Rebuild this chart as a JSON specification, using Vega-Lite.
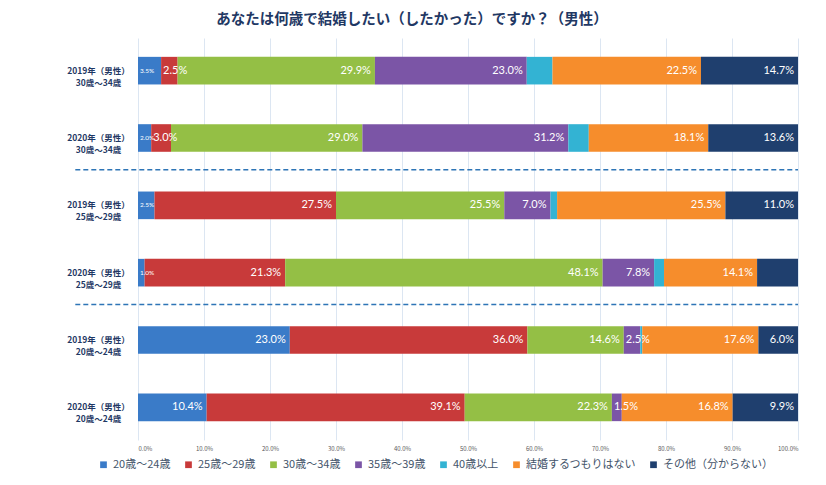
{
  "$schema": "https://vega.github.io/schema/vega-lite/v6.json",
  "width": 660,
  "height": 402,
  "autosize": {"type": "none"},
  "padding": {"left": 138, "top": 38, "right": 28, "bottom": 45},
  "background": "white",
  "title": {"text": "あなたは何歳で結婚したい（したかった）ですか？（男性）", "fontSize": 14.5, "fontWeight": "bold", "color": "#1f3864", "font": "Noto Sans CJK JP", "anchor": "middle", "dx": -56, "offset": 11},
  "config": {"view": {"stroke": null}, "font": "Noto Sans CJK JP"},
  "data": {"values": [
    {"row": "2019年（男性）|30歳～34歳", "cat": "20歳～24歳", "order": 0, "pct": 3.5, "label": "3.5%"},
    {"row": "2019年（男性）|30歳～34歳", "cat": "25歳～29歳", "order": 1, "pct": 2.5, "label": "2.5%"},
    {"row": "2019年（男性）|30歳～34歳", "cat": "30歳～34歳", "order": 2, "pct": 29.9, "label": "29.9%"},
    {"row": "2019年（男性）|30歳～34歳", "cat": "35歳～39歳", "order": 3, "pct": 23.0, "label": "23.0%"},
    {"row": "2019年（男性）|30歳～34歳", "cat": "40歳以上", "order": 4, "pct": 3.9, "label": ""},
    {"row": "2019年（男性）|30歳～34歳", "cat": "結婚するつもりはない", "order": 5, "pct": 22.5, "label": "22.5%"},
    {"row": "2019年（男性）|30歳～34歳", "cat": "その他（分からない）", "order": 6, "pct": 14.7, "label": "14.7%"},
    {"row": "2020年（男性）|30歳～34歳", "cat": "20歳～24歳", "order": 0, "pct": 2.0, "label": "2.0%"},
    {"row": "2020年（男性）|30歳～34歳", "cat": "25歳～29歳", "order": 1, "pct": 3.0, "label": "3.0%"},
    {"row": "2020年（男性）|30歳～34歳", "cat": "30歳～34歳", "order": 2, "pct": 29.0, "label": "29.0%"},
    {"row": "2020年（男性）|30歳～34歳", "cat": "35歳～39歳", "order": 3, "pct": 31.2, "label": "31.2%"},
    {"row": "2020年（男性）|30歳～34歳", "cat": "40歳以上", "order": 4, "pct": 3.1, "label": ""},
    {"row": "2020年（男性）|30歳～34歳", "cat": "結婚するつもりはない", "order": 5, "pct": 18.1, "label": "18.1%"},
    {"row": "2020年（男性）|30歳～34歳", "cat": "その他（分からない）", "order": 6, "pct": 13.6, "label": "13.6%"},
    {"row": "2019年（男性）|25歳～29歳", "cat": "20歳～24歳", "order": 0, "pct": 2.5, "label": "2.5%"},
    {"row": "2019年（男性）|25歳～29歳", "cat": "25歳～29歳", "order": 1, "pct": 27.5, "label": "27.5%"},
    {"row": "2019年（男性）|25歳～29歳", "cat": "30歳～34歳", "order": 2, "pct": 25.5, "label": "25.5%"},
    {"row": "2019年（男性）|25歳～29歳", "cat": "35歳～39歳", "order": 3, "pct": 7.0, "label": "7.0%"},
    {"row": "2019年（男性）|25歳～29歳", "cat": "40歳以上", "order": 4, "pct": 1.0, "label": ""},
    {"row": "2019年（男性）|25歳～29歳", "cat": "結婚するつもりはない", "order": 5, "pct": 25.5, "label": "25.5%"},
    {"row": "2019年（男性）|25歳～29歳", "cat": "その他（分からない）", "order": 6, "pct": 11.0, "label": "11.0%"},
    {"row": "2020年（男性）|25歳～29歳", "cat": "20歳～24歳", "order": 0, "pct": 1.0, "label": "1.0%"},
    {"row": "2020年（男性）|25歳～29歳", "cat": "25歳～29歳", "order": 1, "pct": 21.3, "label": "21.3%"},
    {"row": "2020年（男性）|25歳～29歳", "cat": "30歳～34歳", "order": 2, "pct": 48.1, "label": "48.1%"},
    {"row": "2020年（男性）|25歳～29歳", "cat": "35歳～39歳", "order": 3, "pct": 7.8, "label": "7.8%"},
    {"row": "2020年（男性）|25歳～29歳", "cat": "40歳以上", "order": 4, "pct": 1.5, "label": ""},
    {"row": "2020年（男性）|25歳～29歳", "cat": "結婚するつもりはない", "order": 5, "pct": 14.1, "label": "14.1%"},
    {"row": "2020年（男性）|25歳～29歳", "cat": "その他（分からない）", "order": 6, "pct": 6.2, "label": ""},
    {"row": "2019年（男性）|20歳～24歳", "cat": "20歳～24歳", "order": 0, "pct": 23.0, "label": "23.0%"},
    {"row": "2019年（男性）|20歳～24歳", "cat": "25歳～29歳", "order": 1, "pct": 36.0, "label": "36.0%"},
    {"row": "2019年（男性）|20歳～24歳", "cat": "30歳～34歳", "order": 2, "pct": 14.6, "label": "14.6%"},
    {"row": "2019年（男性）|20歳～24歳", "cat": "35歳～39歳", "order": 3, "pct": 2.5, "label": "2.5%"},
    {"row": "2019年（男性）|20歳～24歳", "cat": "40歳以上", "order": 4, "pct": 0.3, "label": ""},
    {"row": "2019年（男性）|20歳～24歳", "cat": "結婚するつもりはない", "order": 5, "pct": 17.6, "label": "17.6%"},
    {"row": "2019年（男性）|20歳～24歳", "cat": "その他（分からない）", "order": 6, "pct": 6.0, "label": "6.0%"},
    {"row": "2020年（男性）|20歳～24歳", "cat": "20歳～24歳", "order": 0, "pct": 10.4, "label": "10.4%"},
    {"row": "2020年（男性）|20歳～24歳", "cat": "25歳～29歳", "order": 1, "pct": 39.1, "label": "39.1%"},
    {"row": "2020年（男性）|20歳～24歳", "cat": "30歳～34歳", "order": 2, "pct": 22.3, "label": "22.3%"},
    {"row": "2020年（男性）|20歳～24歳", "cat": "35歳～39歳", "order": 3, "pct": 1.5, "label": "1.5%"},
    {"row": "2020年（男性）|20歳～24歳", "cat": "40歳以上", "order": 4, "pct": 0.0, "label": ""},
    {"row": "2020年（男性）|20歳～24歳", "cat": "結婚するつもりはない", "order": 5, "pct": 16.8, "label": "16.8%"},
    {"row": "2020年（男性）|20歳～24歳", "cat": "その他（分からない）", "order": 6, "pct": 9.9, "label": "9.9%"}
  ]},
  "transform": [
    {"stack": "pct", "groupby": ["row"], "sort": [{"field": "order", "order": "ascending"}], "as": ["x0", "x1"]}
  ],
  "encoding": {
    "y": {
      "field": "row", "type": "nominal",
      "sort": ["2019年（男性）|30歳～34歳", "2020年（男性）|30歳～34歳", "2019年（男性）|25歳～29歳", "2020年（男性）|25歳～29歳", "2019年（男性）|20歳～24歳", "2020年（男性）|20歳～24歳"],
      "scale": {"paddingInner": 0.59, "paddingOuter": 0.28},
      "axis": {"title": null, "labelExpr": "split(datum.label, '|')", "labelFontSize": 8.5, "labelFontWeight": "bold", "labelColor": "#1f3864", "labelLineHeight": 12, "ticks": false, "domain": false, "labelPadding": 40, "grid": false, "labelAlign": "center"}
    }
  },
  "layer": [
    {
      "mark": {"type": "bar"},
      "encoding": {
        "x": {"field": "x0", "type": "quantitative", "scale": {"domain": [0, 100], "nice": false},
          "axis": {"title": null, "values": [0, 10, 20, 30, 40, 50, 60, 70, 80, 90, 100], "labelExpr": "format(datum.value, '.1f') + '%'", "labelFontSize": 6, "labelColor": "#595959", "domain": false, "ticks": false, "labelPadding": 5, "gridColor": "#dce6f2", "gridWidth": 1}},
        "x2": {"field": "x1"},
        "color": {"field": "cat", "type": "nominal",
          "scale": {"domain": ["20歳～24歳", "25歳～29歳", "30歳～34歳", "35歳～39歳", "40歳以上", "結婚するつもりはない", "その他（分からない）"],
            "range": ["#3a7bc8", "#c83a3a", "#94bf45", "#7b55a6", "#33b3d3", "#f68d2c", "#1f3f6e"]},
          "legend": {"title": null, "orient": "none", "direction": "horizontal", "legendX": -40, "legendY": 421, "symbolType": "square", "symbolSize": 45, "labelFontSize": 11, "labelColor": "#44546a", "columnPadding": 12, "symbolStrokeWidth": 0}}
      }
    },
    {
      "transform": [{"filter": "datum.label != '' && datum.pct >= 4"}],
      "mark": {"type": "text", "align": "right", "dx": -4, "color": "white", "fontSize": 11, "font": "Lato", "baseline": "middle"},
      "encoding": {"x": {"field": "x1", "type": "quantitative"}, "text": {"field": "label"}}
    },
    {
      "transform": [{"filter": "datum.label != '' && datum.pct < 4 && datum.order != 0"}],
      "mark": {"type": "text", "align": "left", "dx": 2, "color": "white", "fontSize": 11, "font": "Lato", "baseline": "middle"},
      "encoding": {"x": {"field": "x0", "type": "quantitative"}, "text": {"field": "label"}}
    },
    {
      "transform": [{"filter": "datum.order == 0 && datum.pct < 4"}],
      "mark": {"type": "text", "align": "left", "dx": 2, "color": "white", "fontSize": 6.5, "font": "Lato", "baseline": "middle"},
      "encoding": {"x": {"field": "x0", "type": "quantitative"}, "text": {"field": "label"}}
    },
    {
      "data": {"values": [{"row": "2020年（男性）|30歳～34歳", "from": -9.5, "to": 100}, {"row": "2020年（男性）|25歳～29歳", "from": -9.5, "to": 100}]},
      "transform": [],
      "mark": {"type": "rule", "strokeDash": [5, 3], "color": "#2e75b6", "strokeWidth": 1.5, "yOffset": 18},
      "encoding": {
        "x": {"field": "from", "type": "quantitative"},
        "x2": {"field": "to"},
        "y": {"field": "row", "type": "nominal", "bandPosition": 1}
      }
    }
  ]
}
